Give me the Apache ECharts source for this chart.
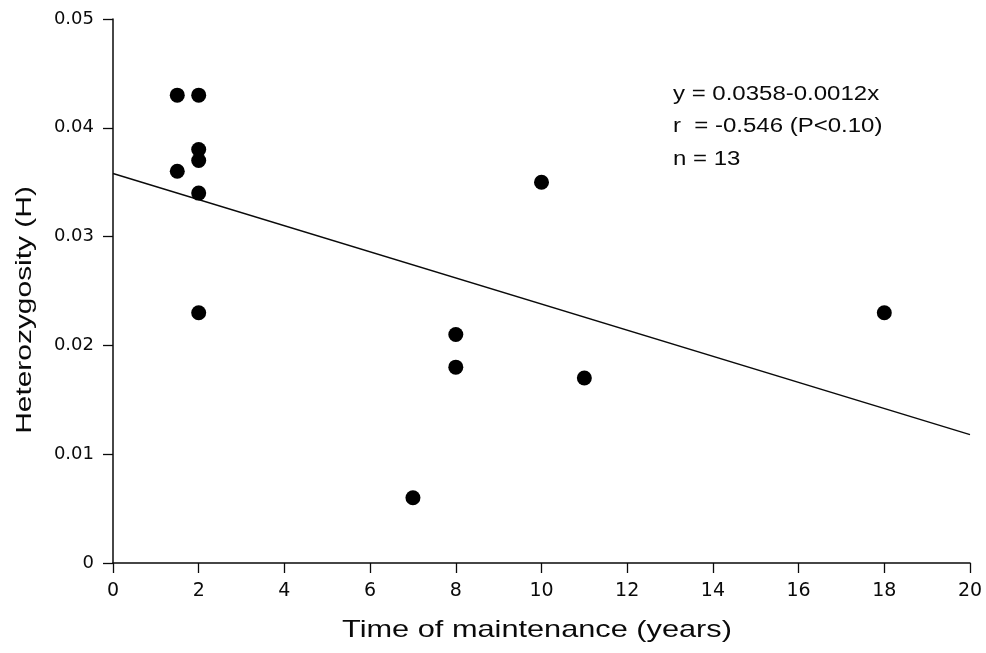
<!DOCTYPE html>
<html>
<head>
<meta charset="utf-8">
<script src="https://cdn.jsdelivr.net/npm/echarts@6/dist/echarts.min.js"></script>
<style>
  html, body { margin: 0; padding: 0; background: #fff; }
  #chart { width: 986px; height: 653px; }
</style>
</head>
<body>
<div id="chart"></div>
<script>
// observed points: years of maintenance vs heterozygosity
const years = [1.5, 1.5, 2, 2, 2, 2, 2, 7, 8, 8, 10, 11, 18];
const heterozygosity = [0.043, 0.036, 0.043, 0.038, 0.037, 0.034, 0.023, 0.006, 0.021, 0.018, 0.035, 0.017, 0.023];
// regression y = 0.0358 - 0.0012x, drawn over 0..20
const fitX = [0, 20];
const fitY = [0.0358, 0.0118];
const statLines = ["y = 0.0358-0.0012x", "r  = -0.546 (P<0.10)", "n = 13"];
const xTitle = "Time of maintenance (years)";
const yTitle = "Heterozygosity (H)";

const TICK_FONT = "DejaVu Sans, sans-serif";
const TEXT_FONT = "Liberation Sans, Arial, sans-serif";
const INK = "#0a0a0a";

const chart = echarts.init(document.getElementById("chart"), null, { renderer: "canvas" });

// the scanned figure uses a wide sans face, so titles are stretched a bit horizontally
const titleText = (text, x, y, size, stretch, rotation) => ({
  type: "text",
  x, y,
  rotation: rotation || 0,
  scaleX: stretch,
  style: {
    text,
    font: size + "px " + TEXT_FONT,
    fill: INK,
    align: "center",
    verticalAlign: "middle"
  }
});

chart.setOption({
  animation: false,
  backgroundColor: "#fff",
  grid: { left: 113, right: 16, top: 19, bottom: 90 },
  xAxis: {
    type: "value",
    min: 0,
    max: 20,
    interval: 2,
    axisLine: { lineStyle: { color: INK, width: 1.5 } },
    axisTick: { length: 10, lineStyle: { color: INK, width: 1.3 } },
    axisLabel: { fontFamily: TICK_FONT, fontSize: 19, color: INK, margin: 19 },
    splitLine: { show: false }
  },
  yAxis: {
    type: "value",
    min: 0,
    max: 0.05,
    interval: 0.01,
    axisLine: { show: true, lineStyle: { color: INK, width: 1.5 } },
    axisTick: { show: true, length: 10, lineStyle: { color: INK, width: 1.3 } },
    axisLabel: {
      fontFamily: TICK_FONT, fontSize: 18, color: INK, margin: 19,
      formatter: (v) => (v === 0 ? "0" : v.toFixed(2))
    },
    splitLine: { show: false }
  },
  graphic: [
    titleText(xTitle, 537, 630, 24, 1.28),
    titleText(yTitle, 25, 310, 22, 1.36, Math.PI / 2)
  ].concat(statLines.map((t, i) => ({
    type: "text",
    x: 673,
    y: 94 + i * 32.5,
    scaleX: 1.2,
    style: {
      text: t,
      font: "20px " + TEXT_FONT,
      fill: INK,
      align: "left",
      verticalAlign: "middle"
    }
  }))),
  series: [
    {
      type: "line",
      data: fitX.map((x, i) => [x, fitY[i]]),
      symbol: "none",
      lineStyle: { color: INK, width: 1.4 },
      z: 1
    },
    {
      type: "scatter",
      data: years.map((x, i) => [x, heterozygosity[i]]),
      symbolSize: 15,
      itemStyle: { color: "#000", opacity: 1 },
      z: 2
    }
  ]
});
</script>
</body>
</html>
